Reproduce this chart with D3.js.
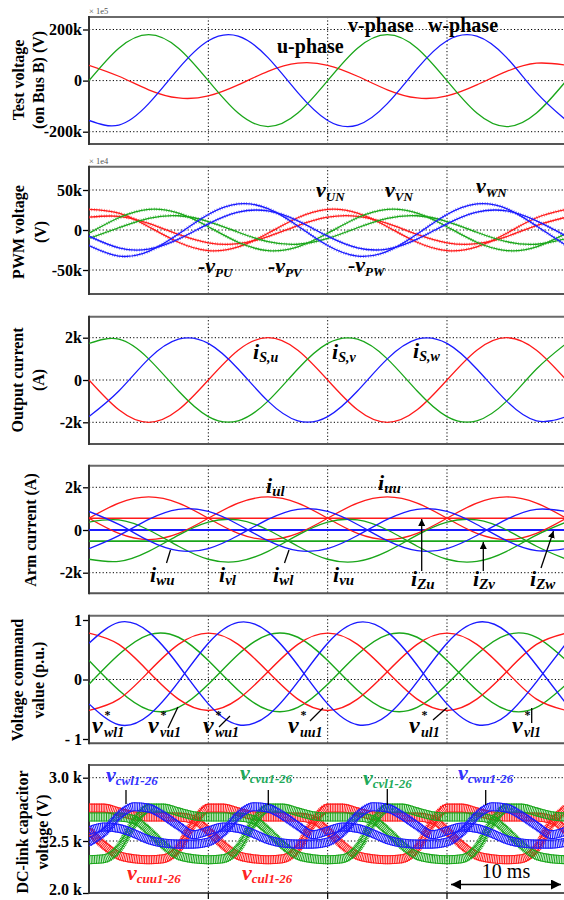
<!DOCTYPE html>
<html><head><meta charset="utf-8">
<script src="https://cdn.jsdelivr.net/npm/d3@7"></script>
<style>
body{margin:0;background:#fff;}
svg{display:block;}
text{font-family:"Liberation Serif","Times New Roman",serif;}
</style></head><body>
<svg id="c" width="564" height="900"></svg>
<script>
// ---------- DATA ----------
const time = [0,2.5,5,7.5,10,12.5,15,17.5,20,22.5,25,27.5,30,32.5,35,37.5,40]; // ms
const timeFine = [0,1.25,2.5,3.75,5,6.25,7.5,8.75,10,11.25,12.5,13.75,15,16.25,17.5,18.75,20,
                  21.25,22.5,23.75,25,26.25,27.5,28.75,30,31.25,32.5,33.75,35,36.25,37.5,38.75,40];
const timeFlat = [0,40];
const gridTimes = [10,20,30];

// Panel 1: test voltage (kV)
const testU = [60,17,-36,-68,-60,-17,36,68,60,17,-36,-68,-60,-17,36,68,60];
const testV = [0,127,180,127,0,-127,-180,-127,0,127,180,127,0,-127,-180,-127,0];
const testW = [-156,-174,-90,47,156,174,90,-47,-156,-174,-90,47,156,174,90,-47,-156];
const ticks1 = [-200,0,200];

// Panel 2: PWM voltage (kV)
const pwmRedA = [25.7,21.0,4.1,-15.3,-25.7,-21.0,-4.1,15.3,25.7,21.0,4.1,-15.3,-25.7,-21.0,-4.1,15.3,25.7];
const pwmRedB = [16.0,17.1,8.2,-5.6,-16.0,-17.1,-8.2,5.6,16.0,17.1,8.2,-5.6,-16.0,-17.1,-8.2,5.6,16.0];
const pwmGreenA = [-4.1,15.3,25.7,21.0,4.1,-15.3,-25.7,-21.0,-4.1,15.3,25.7,21.0,4.1,-15.3,-25.7,-21.0,-4.1];
const pwmGreenB = [-10.6,2.8,14.6,17.8,10.6,-2.8,-14.6,-17.8,-10.6,2.8,14.6,17.8,10.6,-2.8,-14.6,-17.8,-10.6];
const pwmBlueA = [-19.4,-32.6,-26.7,-5.1,19.4,32.6,26.7,5.1,-19.4,-32.6,-26.7,-5.1,19.4,32.6,26.7,5.1,-19.4];
const pwmBlueB = [-7.7,-22.3,-23.8,-11.4,7.7,22.3,23.8,11.4,-7.7,-22.3,-23.8,-11.4,7.7,22.3,23.8,11.4,-7.7];
const ticks2 = [-50,0,50];

// Panel 3: output current (kA)
const curU = [0,-1.41,-2,-1.41,0,1.41,2,1.41,0,-1.41,-2,-1.41,0,1.41,2,1.41,0];
const curV = [1.73,1.93,1.0,-0.52,-1.73,-1.93,-1.0,0.52,1.73,1.93,1.0,-0.52,-1.73,-1.93,-1.0,0.52,1.73];
const curW = [-1.73,-0.52,1.0,1.93,1.73,0.52,-1.0,-1.93,-1.73,-0.52,1.0,1.93,1.73,0.52,-1.0,-1.93,-1.73];
const ticks3 = [-2,0,2];

// Panel 4: arm current (kA)
const armU1 = [0.55,1.26,1.55,1.26,0.55,-0.16,-0.45,-0.16,0.55,1.26,1.55,1.26,0.55,-0.16,-0.45,-0.16,0.55];
const armU2 = [0.55,-0.16,-0.45,-0.16,0.55,1.26,1.55,1.26,0.55,-0.16,-0.45,-0.16,0.55,1.26,1.55,1.26,0.55];
const armW1 = [-0.87,-0.26,0.5,0.97,0.87,0.26,-0.5,-0.97,-0.87,-0.26,0.5,0.97,0.87,0.26,-0.5,-0.97,-0.87];
const armW2 = [0.87,0.26,-0.5,-0.97,-0.87,-0.26,0.5,0.97,0.87,0.26,-0.5,-0.97,-0.87,-0.26,0.5,0.97,0.87];
const armV1 = [0.37,0.47,0.0,-0.76,-1.37,-1.47,-1.0,-0.24,0.37,0.47,0.0,-0.76,-1.37,-1.47,-1.0,-0.24,0.37];
const armV2 = [-1.37,-1.47,-1.0,-0.24,0.37,0.47,0.0,-0.76,-1.37,-1.47,-1.0,-0.24,0.37,0.47,0.0,-0.76,-1.37];
const iZu = [0.55,0.55];
const iZv = [-0.52,-0.52];
const iZw = [0.0,0.0];
const ticks4 = [-2,0,2];

// Panel 5: voltage command (p.u.)
const cmdRed1 = [0.78,0.59,0.13,-0.33,-0.52,-0.33,0.13,0.59,0.78,0.59,0.13,-0.33,-0.52,-0.33,0.13,0.59,0.78];
const cmdRed2 = [-0.52,-0.33,0.13,0.59,0.78,0.59,0.13,-0.33,-0.52,-0.33,0.13,0.59,0.78,0.59,0.13,-0.33,-0.52];
const cmdGreen1 = [-0.08,0.42,0.75,0.71,0.32,-0.18,-0.51,-0.47,-0.08,0.42,0.75,0.71,0.32,-0.18,-0.51,-0.47,-0.08];
const cmdGreen2 = [0.32,-0.18,-0.51,-0.47,-0.08,0.42,0.75,0.71,0.32,-0.18,-0.51,-0.47,-0.08,0.42,0.75,0.71,0.32];
const cmdBlue1 = [0.61,0.96,0.80,0.24,-0.41,-0.76,-0.60,-0.04,0.61,0.96,0.80,0.24,-0.41,-0.76,-0.60,-0.04,0.61];
const cmdBlue2 = [-0.41,-0.76,-0.60,-0.04,0.61,0.96,0.80,0.24,-0.41,-0.76,-0.60,-0.04,0.61,0.96,0.80,0.24,-0.41];
const ticks5 = [-1,0,1];

// Panel 6: DC-link capacitor voltage (kV), band centre lines on timeFine
const capUU = [2.58,2.46,2.36,2.33,2.32,2.33,2.43,2.64,2.76,2.76,2.73,2.70,2.69,2.69,2.69,2.67,
               2.58,2.46,2.36,2.33,2.32,2.33,2.43,2.64,2.76,2.76,2.73,2.70,2.69,2.69,2.69,2.67,2.58];
const capUL = [2.76,2.76,2.73,2.70,2.69,2.69,2.69,2.67,2.58,2.46,2.36,2.33,2.32,2.33,2.43,2.64,
               2.76,2.76,2.73,2.70,2.69,2.69,2.69,2.67,2.58,2.46,2.36,2.33,2.32,2.33,2.43,2.64,2.76];
const capVU = [2.69,2.69,2.69,2.67,2.58,2.46,2.36,2.33,2.32,2.33,2.43,2.64,2.76,2.76,2.73,2.70,
               2.69,2.69,2.69,2.67,2.58,2.46,2.36,2.33,2.32,2.33,2.43,2.64,2.76,2.76,2.73,2.70,2.69];
const capVL = [2.32,2.33,2.43,2.64,2.76,2.76,2.73,2.70,2.69,2.69,2.69,2.67,2.58,2.46,2.36,2.33,
               2.32,2.33,2.43,2.64,2.76,2.76,2.73,2.70,2.69,2.69,2.69,2.67,2.58,2.46,2.36,2.33,2.32];
const capWU = [2.58,2.61,2.60,2.56,2.51,2.48,2.47,2.47,2.49,2.57,2.70,2.77,2.76,2.70,2.62,2.55,
               2.58,2.61,2.60,2.56,2.51,2.48,2.47,2.47,2.49,2.57,2.70,2.77,2.76,2.70,2.62,2.55,2.58];
const capWL = [2.49,2.57,2.70,2.77,2.76,2.70,2.62,2.55,2.58,2.61,2.60,2.56,2.51,2.48,2.47,2.47,
               2.49,2.57,2.70,2.77,2.76,2.70,2.62,2.55,2.58,2.61,2.60,2.56,2.51,2.48,2.47,2.47,2.49];
const ticks6 = [2.0,2.5,3.0];

// ---------- DRAW ----------
const W = 564, L = 89;
const RED = "#ff1a1a", GREEN = "#1aa61a", BLUE = "#1a1aff";
const svg = d3.select("#c");
const defs = svg.append("defs");
const x = d3.scaleLinear().domain([0,40]).range([L, L + 4*119.33]);

defs.append("marker").attr("id","ah").attr("viewBox","0 0 10 10").attr("refX",10).attr("refY",5)
  .attr("markerWidth",7).attr("markerHeight",7).attr("orient","auto-start-reverse").attr("markerUnits","userSpaceOnUse")
  .append("path").attr("d","M0,0 L10,5 L0,10 Z").attr("fill","#000");
defs.append("marker").attr("id","ah2").attr("viewBox","0 0 10 10").attr("refX",10).attr("refY",5)
  .attr("markerWidth",12).attr("markerHeight",10).attr("orient","auto-start-reverse").attr("markerUnits","userSpaceOnUse")
  .append("path").attr("d","M0,0 L10,5 L0,10 Z").attr("fill","#000");

function panel(id, top, bottom, y, ticks, fmt, hGrid, titles) {
  const g = svg.append("g");
  defs.append("clipPath").attr("id","clip"+id).append("rect")
    .attr("x",L).attr("y",top).attr("width",W-L).attr("height",bottom-top);
  hGrid.forEach(v => g.append("line").attr("x1",L).attr("x2",W).attr("y1",y(v)).attr("y2",y(v))
    .attr("stroke","#000").attr("stroke-width",1).attr("stroke-dasharray","1.2,2.2"));
  gridTimes.forEach(t => g.append("line").attr("x1",x(t)).attr("x2",x(t)).attr("y1",top).attr("y2",bottom)
    .attr("stroke","#000").attr("stroke-width",1).attr("stroke-dasharray","1.2,2.2"));
  const ax = g.append("g").attr("transform",`translate(${L},0)`)
    .call(d3.axisLeft(y).tickValues(ticks).tickFormat(fmt).tickSize(6).tickPadding(1));
  ax.select(".domain").remove();
  ax.selectAll("line").attr("stroke","#000").attr("stroke-width",1.3);
  ax.selectAll("text").attr("font-family","Liberation Serif").attr("font-weight","bold")
    .attr("font-size",16).attr("fill","#000");
  g.append("line").attr("x1",L).attr("x2",W).attr("y1",top).attr("y2",top).attr("stroke","#6a6a6a").attr("stroke-width",2);
  g.append("line").attr("x1",L).attr("x2",W).attr("y1",bottom).attr("y2",bottom).attr("stroke","#555").attr("stroke-width",2);
  g.append("line").attr("x1",L).attr("x2",L).attr("y1",top-1).attr("y2",bottom+1).attr("stroke","#333").attr("stroke-width",2);
  titles.forEach(tt => g.append("text").attr("transform",`translate(${tt[0]},${tt[1]}) rotate(-90)`)
    .attr("text-anchor","middle").attr("font-weight","bold").attr("font-size",16).attr("dominant-baseline","central").text(tt[2]));
  const plot = svg.append("g").attr("clip-path",`url(#clip${id})`);
  return {plot, ax};
}

function drawLine(plot, y, xs, vals, color, w, curve) {
  const line = d3.line().x((d,i)=>x(xs[i])).y(d=>y(d)).curve(curve || d3.curveNatural);
  return plot.append("path").datum(vals).attr("d",line).attr("fill","none").attr("stroke",color).attr("stroke-width",w);
}

function label(x0, y0, parts, fill) {
  const t = svg.append("text").attr("x",x0).attr("y",y0).attr("fill",fill||"#000")
    .attr("font-weight","bold").attr("font-style","italic");
  parts.forEach(p => {
    const s = t.append("tspan").text(p.t).attr("font-size",p.size||20);
    if (p.dy) s.attr("dy",p.dy);
    if (p.dx) s.attr("dx",p.dx);
    if (p.style) s.attr("font-style",p.style);
  });
  return t;
}
function leader(x1,y1,x2,y2,arrow){
  const l = svg.append("line").attr("x1",x1).attr("y1",y1).attr("x2",x2).attr("y2",y2)
    .attr("stroke","#000").attr("stroke-width",1.3);
  if (arrow) l.attr("marker-end","url(#ah)");
}

const kfmt = d => d === 0 ? "0" : d + "k";

// ----- Panel 1
{
  const y = d3.scaleLinear().domain([-200,200]).range([131.7,29.5]);
  const {plot:p} = panel(1, 17, 144, y, ticks1, kfmt, [-200,0,200], [[18,80,"Test voltage"],[38,80,"(on Bus B) (V)"]]);
  drawLine(p, y, time, testU, RED, 1.3);
  drawLine(p, y, time, testV, GREEN, 1.3);
  drawLine(p, y, time, testW, BLUE, 1.3);
  svg.append("text").attr("x",89).attr("y",14).attr("font-family","DejaVu Sans").attr("font-size",8.5).attr("fill","#555").text("× 1e5");
  svg.append("text").attr("x",277).attr("y",53).attr("font-weight","bold").attr("font-size",20).text("u-phase");
  svg.append("text").attr("x",348).attr("y",32).attr("font-weight","bold").attr("font-size",20).text("v-phase");
  svg.append("text").attr("x",428).attr("y",32).attr("font-weight","bold").attr("font-size",20).text("w-phase");
}

// ----- Panel 2
{
  const y = d3.scaleLinear().domain([-50,50]).range([270,190]);
  const {plot:p} = panel(2, 166.7, 294, y, ticks2, kfmt, [-50,0,50], [[18,232,"PWM voltage"],[40,232,"(V)"]]);
  const series = [[pwmRedA,RED],[pwmRedB,RED],[pwmGreenA,GREEN],[pwmGreenB,GREEN],[pwmBlueA,BLUE],[pwmBlueB,BLUE]];
  series.forEach(s => {
    drawLine(p, y, time, s[0], s[1], 3.2).attr("stroke-dasharray","0.6,1.9").attr("opacity",0.75);
    drawLine(p, y, time, s[0], s[1], 1.3);
  });
  svg.append("text").attr("x",89).attr("y",164).attr("font-family","DejaVu Sans").attr("font-size",8.5).attr("fill","#555").text("× 1e4");
  label(316, 197, [{t:"v",size:22},{t:"UN",size:13,dy:4}]);
  label(385, 197, [{t:"v",size:22},{t:"VN",size:13,dy:4}]);
  label(476, 193, [{t:"v",size:22},{t:"WN",size:13,dy:4}]);
  label(198, 273, [{t:"-v",size:22},{t:"PU",size:13,dy:4}]);
  label(268, 273, [{t:"-v",size:22},{t:"PV",size:13,dy:4}]);
  label(348, 272, [{t:"-v",size:22},{t:"PW",size:13,dy:4}]);
}

// ----- Panel 3
{
  const y = d3.scaleLinear().domain([-2,2]).range([422.3,337.7]);
  const {plot:p} = panel(3, 316.7, 444, y, ticks3, kfmt, [-2,0,2], [[17,380,"Output current"],[38,380,"(A)"]]);
  drawLine(p, y, time, curU, RED, 1.3);
  drawLine(p, y, time, curV, GREEN, 1.3);
  drawLine(p, y, time, curW, BLUE, 1.3);
  label(253, 359, [{t:"i",size:22},{t:"S,u",size:14,dy:3}]);
  label(332, 359, [{t:"i",size:22},{t:"S,v",size:14,dy:3}]);
  label(413, 358, [{t:"i",size:22},{t:"S,w",size:14,dy:3}]);
}

// ----- Panel 4
{
  const y = d3.scaleLinear().domain([-2,2]).range([572.7,487.3]);
  const {plot:p} = panel(4, 465.7, 593.3, y, ticks4, kfmt, [-2,0,2], [[30,530,"Arm current (A)"]]);
  drawLine(p, y, timeFlat, iZu, RED, 1.6, d3.curveLinear);
  drawLine(p, y, timeFlat, iZw, BLUE, 1.8, d3.curveLinear);
  drawLine(p, y, timeFlat, iZv, GREEN, 1.6, d3.curveLinear);
  drawLine(p, y, time, armU1, RED, 1.3);
  drawLine(p, y, time, armU2, RED, 1.3);
  drawLine(p, y, time, armV1, GREEN, 1.3);
  drawLine(p, y, time, armV2, GREEN, 1.3);
  drawLine(p, y, time, armW1, BLUE, 1.3);
  drawLine(p, y, time, armW2, BLUE, 1.3);
  label(266, 493, [{t:"i",size:22},{t:"ul",size:15,dy:3}]);
  label(378, 490, [{t:"i",size:22},{t:"uu",size:15,dy:3}]);
  label(150, 582, [{t:"i",size:22},{t:"wu",size:15,dy:3}]);
  label(219, 582, [{t:"i",size:22},{t:"vl",size:15,dy:3}]);
  label(273, 582, [{t:"i",size:22},{t:"wl",size:15,dy:3}]);
  label(333, 582, [{t:"i",size:22},{t:"vu",size:15,dy:3}]);
  label(411, 586, [{t:"i",size:22},{t:"Zu",size:15,dy:3}]);
  label(473, 586, [{t:"i",size:22},{t:"Zv",size:15,dy:3}]);
  label(530, 586, [{t:"i",size:22},{t:"Zw",size:15,dy:3}]);
  leader(166.5,563,170.5,550);
  leader(284.5,563,289,550);
  leader(421.7,571,421.7,519,true);
  leader(483.3,571,483.3,542,true);
  leader(541,568,553.5,531,true);
}

// ----- Panel 5
{
  const y = d3.scaleLinear().domain([-1,1]).range([739,620]);
  const {plot:p} = panel(5, 615.7, 743.3, y, ticks5, d => d===-1 ? "- 1" : String(d), [0], [[17,680,"Voltage command"],[38,680,"value (p.u.)"]]);
  drawLine(p, y, time, cmdGreen1, GREEN, 1.4);
  drawLine(p, y, time, cmdGreen2, GREEN, 1.4);
  drawLine(p, y, time, cmdRed1, RED, 1.4);
  drawLine(p, y, time, cmdRed2, RED, 1.4);
  drawLine(p, y, time, cmdBlue1, BLUE, 1.4);
  drawLine(p, y, time, cmdBlue2, BLUE, 1.4);
  const cmdLbl = (x0,sub) => {
    svg.append("text").attr("x",x0).attr("y",733).attr("font-weight","bold").attr("font-style","italic").attr("font-size",24).text("v");
    svg.append("text").attr("x",x0+12.5).attr("y",719).attr("font-weight","bold").attr("font-size",12).text("*");
    svg.append("text").attr("x",x0+12).attr("y",737).attr("font-weight","bold").attr("font-style","italic").attr("font-size",14).text(sub);
  };
  cmdLbl(92,"wl1"); cmdLbl(148,"vu1"); cmdLbl(203,"wu1"); cmdLbl(288,"uu1"); cmdLbl(409,"ul1"); cmdLbl(512,"vl1");
  leader(168,728,178,707);
  leader(219,727,230,716);
  leader(310,721,323,708);
  leader(433,720,446.7,708);
  leader(531.7,723,531.7,708);
}

// ----- Panel 6
{
  const y = d3.scaleLinear().domain([2.0,2.5,3.0]).range([893,841,777.7]);
  const {plot:p, ax} = panel(6, 765, 893, y, ticks6, d => d.toFixed(1)+" k", [2.5,3.0], [[22,832,"DC-link capacitor"],[42,832,"voltage (V)"]]);
  ax.selectAll(".tick").filter(d => d === 2.0).select("text").attr("dy","0.1em");
  const bands = [[capUU,RED],[capUL,RED],[capVU,GREEN],[capVL,GREEN],[capWU,BLUE],[capWL,BLUE]];
  bands.forEach(b => {
    drawLine(p, y, timeFine, b[0], b[1], 9, d3.curveMonotoneX).attr("stroke-dasharray","1,0.7");
    drawLine(p, y, timeFine, b[0], b[1], 1.1, d3.curveMonotoneX).attr("transform","translate(0,-4)");
    drawLine(p, y, timeFine, b[0], b[1], 1.1, d3.curveMonotoneX).attr("transform","translate(0,4)");
  });
  gridTimes.forEach(t => svg.append("line").attr("x1",x(t)).attr("x2",x(t)).attr("y1",893).attr("y2",899).attr("stroke","#000").attr("stroke-width",1.2));
  const BL="#3333ff", GL="#1faa5a", RL="#ff2222";
  label(106, 782, [{t:"v",size:22},{t:"cwl1-26",size:13,dy:3}], BL);
  label(240, 780, [{t:"v",size:22},{t:"cvu1-26",size:13,dy:3}], GL);
  label(363, 785, [{t:"v",size:22},{t:"cvl1-26",size:13,dy:3}], GL);
  label(458, 780, [{t:"v",size:22},{t:"cwu1-26",size:13,dy:3}], BL);
  label(127, 880, [{t:"v",size:22},{t:"cuu1-26",size:13,dy:3}], RL);
  label(242, 880, [{t:"v",size:22},{t:"cul1-26",size:13,dy:3}], RL);
  leader(126,790,126,804);
  leader(268.3,790,268.3,805);
  leader(387.3,789,387.3,805);
  leader(485.7,790,485.7,805);
  svg.append("line").attr("x1",451).attr("x2",561).attr("y1",884.5).attr("y2",884.5)
    .attr("stroke","#000").attr("stroke-width",1.5).attr("marker-start","url(#ah2)").attr("marker-end","url(#ah2)");
  svg.append("text").attr("x",506).attr("y",878).attr("text-anchor","middle").attr("font-size",20).text("10 ms");
}
</script>
</body></html>
